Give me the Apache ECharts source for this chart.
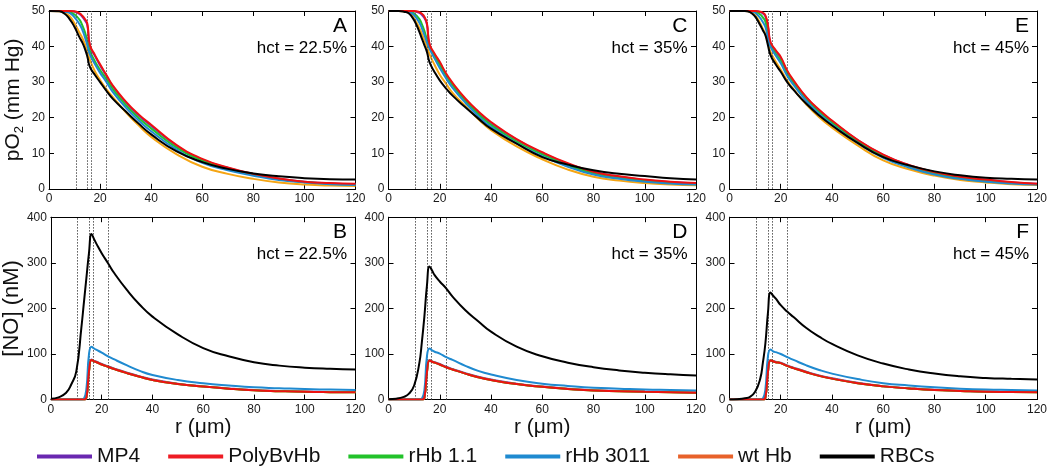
<!DOCTYPE html>
<html><head><meta charset="utf-8">
<script src="https://cdn.jsdelivr.net/npm/echarts@6/dist/echarts.min.js"></script>
<style>html,body{margin:0;padding:0;background:#fff}#chart{width:1050px;height:473px}</style>
</head><body><div id="chart"></div>
<script>
// ---------------- DATA ----------------
const seriesNames = ['MP4', 'PolyBvHb', 'rHb 1.1', 'rHb 3011', 'wt Hb', 'RBCs'];
const xTicks = [0, 20, 40, 60, 80, 100, 120];
const wallRadii = [10.5, 15, 16.5, 22.5];
const panelLetters = ['A', 'B', 'C', 'D', 'E', 'F'];
const hctLabels = ['hct = 22.5%', 'hct = 35%', 'hct = 45%'];

const radiusPO2 = [0, 4, 6, 8, 10, 12, 13, 14, 15, 16, 18, 20, 22.5, 25, 30, 35, 40, 50, 60, 70, 80, 90, 100, 110, 120];
const radiusNO  = [0, 3, 6, 8, 10, 12, 13, 14, 15, 16, 17, 18, 20, 22.5, 25, 30, 35, 40, 50, 60, 70, 80, 90, 100, 110, 120];

// pO2, hct 22.5% (A)
const pO2_A_MP4      = [50, 50, 50, 50, 49.8, 49.1, 48.4, 47.4, 46.0, 40.2, 37.3, 34.7, 31.7, 28.8, 24.3, 20.7, 17.7, 12.1, 8.2, 5.9, 4.1, 2.8, 2.0, 1.5, 1.3];
const pO2_A_PolyBvHb = [50, 50, 50, 50, 49.9, 49.3, 48.7, 47.8, 46.5, 40.5, 37.6, 35.0, 32.0, 29.0, 24.6, 21.0, 18.0, 12.3, 8.4, 6.0, 4.2, 2.9, 2.0, 1.6, 1.4];
const pO2_A_rHb11    = [50, 50, 49.9, 49.7, 49.0, 47.5, 46.0, 44.2, 41.5, 38.8, 35.8, 33.4, 30.8, 28.0, 23.6, 20.0, 17.0, 11.6, 7.9, 5.6, 4.0, 2.7, 1.9, 1.4, 1.2];
const pO2_A_rHb3011  = [50, 50, 49.8, 49.5, 48.2, 46.2, 44.8, 42.8, 40.4, 37.8, 35.0, 32.6, 30.0, 27.2, 22.9, 19.3, 16.2, 11.0, 7.3, 5.2, 3.7, 2.5, 1.8, 1.3, 1.1];
const pO2_A_wtHb     = [50, 49.9, 49.5, 48.6, 46.5, 43.8, 42.5, 40.8, 38.6, 36.3, 33.0, 30.6, 28.0, 25.8, 21.6, 17.9, 14.6, 9.7, 6.2, 4.2, 2.8, 1.8, 1.2, 0.9, 0.8];
const pO2_A_RBCs     = [50, 49.9, 49.3, 47.8, 45.5, 42.5, 41.2, 39.5, 37.2, 34.3, 32.0, 30.0, 27.5, 25.3, 21.8, 18.4, 15.3, 10.5, 7.5, 5.6, 4.3, 3.5, 3.0, 2.7, 2.6];

// pO2, hct 35% (C)
const pO2_C_MP4      = [50, 50, 50, 50, 49.9, 49.5, 48.9, 48.0, 46.2, 40.5, 37.7, 35.4, 32.1, 29.5, 25.1, 21.5, 18.5, 13.8, 10.1, 7.0, 4.7, 3.4, 2.5, 1.9, 1.5];
const pO2_C_PolyBvHb = [50, 50, 50, 50, 50, 49.7, 49.2, 48.4, 46.5, 40.8, 38.0, 35.7, 32.4, 29.8, 25.4, 21.8, 18.8, 14.0, 10.3, 7.2, 4.8, 3.5, 2.6, 2.0, 1.6];
const pO2_C_rHb11    = [50, 50, 50, 49.9, 49.3, 47.8, 46.3, 44.4, 42.0, 40.2, 37.3, 34.8, 31.8, 29.1, 24.8, 21.1, 18.0, 13.3, 9.7, 6.6, 4.3, 3.0, 2.2, 1.6, 1.3];
const pO2_C_rHb3011  = [50, 50, 50, 49.8, 48.8, 46.8, 45.2, 43.3, 41.2, 39.4, 36.6, 34.0, 31.0, 28.4, 24.2, 20.5, 17.4, 12.8, 9.2, 6.2, 4.0, 2.8, 2.0, 1.5, 1.2];
const pO2_C_wtHb     = [50, 50, 49.9, 49.5, 47.9, 45.2, 43.6, 41.8, 40.0, 37.9, 34.8, 32.1, 29.5, 27.0, 23.3, 19.6, 16.5, 11.9, 8.3, 5.4, 3.4, 2.3, 1.6, 1.2, 1.0];
const pO2_C_RBCs     = [50, 50, 49.8, 49.3, 47.4, 44.2, 42.3, 40.4, 38.5, 35.6, 32.8, 30.5, 28.2, 26.2, 22.9, 19.8, 16.9, 12.7, 8.9, 6.8, 5.2, 4.2, 3.6, 3.0, 2.6];

// pO2, hct 45% (E)
const pO2_E_MP4      = [50, 50, 50, 50, 50, 49.7, 49.3, 48.5, 45.6, 41.0, 38.7, 36.8, 33.0, 30.2, 25.6, 22.0, 19.0, 13.7, 9.5, 6.6, 4.6, 3.3, 2.5, 1.8, 1.4];
const pO2_E_PolyBvHb = [50, 50, 50, 50, 50, 49.8, 49.5, 48.8, 46.0, 41.3, 39.0, 37.1, 33.3, 30.5, 25.8, 22.2, 19.2, 13.8, 9.6, 6.7, 4.7, 3.4, 2.6, 1.9, 1.4];
const pO2_E_rHb11    = [50, 50, 50, 50, 49.8, 49.0, 48.2, 47.0, 43.5, 40.5, 38.0, 36.0, 32.5, 29.8, 25.2, 21.6, 18.6, 13.3, 9.1, 6.3, 4.3, 3.0, 2.1, 1.6, 1.3];
const pO2_E_rHb3011  = [50, 50, 50, 49.9, 49.5, 48.0, 46.9, 45.5, 42.5, 40.0, 37.5, 35.3, 31.8, 29.2, 24.7, 21.1, 18.1, 12.9, 8.7, 6.0, 4.0, 2.8, 2.0, 1.5, 1.2];
const pO2_E_wtHb     = [50, 50, 50, 49.8, 48.8, 46.5, 45.0, 43.5, 41.0, 38.5, 35.8, 33.5, 30.5, 28.0, 23.7, 20.1, 17.2, 12.2, 8.0, 5.5, 3.7, 2.5, 1.8, 1.3, 1.1];
const pO2_E_RBCs     = [50, 50, 50, 49.7, 48.4, 46.0, 44.6, 43.2, 40.4, 37.6, 35.0, 32.9, 30.0, 27.8, 23.9, 20.6, 17.8, 12.9, 8.9, 6.6, 4.9, 3.8, 3.1, 2.8, 2.6];

// [NO], hct 22.5% (B)
const NO_B_MP4      = [0, 0, 0, 0, 0, 0, 0, 5, 63, 88, 85, 83, 78, 73, 68, 59, 51, 44, 35, 29, 24.5, 21, 19, 17.5, 16.8, 16.5];
const NO_B_PolyBvHb = [0, 0, 0, 0, 0, 0, 0, 5, 62, 87, 84, 82, 77, 72, 67, 58, 50, 43, 34, 28.5, 24, 20.5, 18.5, 17, 16.3, 16];
const NO_B_rHb11    = [0, 0, 0, 0, 0, 0, 0, 5, 62, 87, 84, 82, 77, 72, 67, 58, 50, 43, 34, 28.5, 24, 20.5, 18.5, 17, 16.3, 16];
const NO_B_rHb3011  = [0, 0, 0, 0, 0, 0, 2, 25, 100, 116, 112, 109, 103, 95, 88, 75, 63, 54, 43, 36, 31, 27, 25, 23, 22, 21];
const NO_B_wtHb     = [0, 0, 0, 0, 0, 0, 0, 5, 62, 87, 84, 82, 77, 72, 67, 58, 50, 43, 34, 28.5, 24, 20.5, 18.5, 17, 16.3, 16];
const NO_B_RBCs     = [2, 5, 15, 33, 62, 158, 213, 268, 322, 363, 352, 341, 321, 299, 277, 240, 208, 182, 143, 113, 95, 82, 74.5, 70, 67.5, 66];

// [NO], hct 35% (D)
const NO_D_MP4      = [0, 0, 0, 0, 0, 0, 0, 4, 61, 87, 84, 82, 78, 72, 67, 58, 50, 44, 35, 28.5, 24, 20.5, 19, 17.5, 16.5, 15.5];
const NO_D_PolyBvHb = [0, 0, 0, 0, 0, 0, 0, 4, 60, 86, 83, 81, 77, 71, 66, 57, 49, 43, 34, 28, 23.5, 20, 18.5, 17, 16, 15];
const NO_D_rHb11    = [0, 0, 0, 0, 0, 0, 0, 4, 60, 86, 83, 81, 77, 71, 66, 57, 49, 43, 34, 28, 23.5, 20, 18.5, 17, 16, 15];
const NO_D_rHb3011  = [0, 0, 0, 0, 0, 0, 2, 20, 95, 112, 108, 105, 101, 93, 87, 74, 63, 55, 43, 35, 30, 26, 24, 22, 21, 20];
const NO_D_wtHb     = [0, 0, 0, 0, 0, 0, 0, 4, 60, 86, 83, 81, 77, 71, 66, 57, 49, 43, 34, 28, 23.5, 20, 18.5, 17, 16, 15];
const NO_D_RBCs     = [1, 2, 6, 13, 31, 79, 125, 182, 250, 292, 283, 273, 259, 244, 226, 196, 172, 149, 116, 95, 81, 71, 64, 59, 55.5, 53];

// [NO], hct 45% (F)
const NO_F_MP4      = [0, 0, 0, 0, 0, 0, 0, 4, 61, 87, 85, 83, 81, 75, 70, 61, 53, 47, 37, 29.5, 25, 21.5, 19.5, 17.5, 17, 16.5];
const NO_F_PolyBvHb = [0, 0, 0, 0, 0, 0, 0, 4, 60, 86, 84, 82, 80, 74, 69, 60, 52, 46, 36, 29, 24.5, 21, 19, 17, 16.5, 16];
const NO_F_rHb11    = [0, 0, 0, 0, 0, 0, 0, 4, 60, 86, 84, 82, 80, 74, 69, 60, 52, 46, 36, 29, 24.5, 21, 19, 17, 16.5, 16];
const NO_F_rHb3011  = [0, 0, 0, 0, 0, 0, 2, 22, 95, 110, 106, 104, 100, 93, 87, 75, 65, 57, 45, 36, 31, 27, 24, 22, 21, 20];
const NO_F_wtHb     = [0, 0, 0, 0, 0, 0, 0, 4, 60, 86, 84, 82, 80, 74, 69, 60, 52, 46, 36, 29, 24.5, 21, 19, 17, 16.5, 16];
const NO_F_RBCs     = [0, 1, 3, 6, 17, 46, 80, 123, 190, 235, 228, 222, 207, 193, 181, 157, 138, 122, 97, 79, 66, 57, 51, 47.5, 45.5, 44];

// ---------------- STYLE / LAYOUT ----------------
const FONT = '"Liberation Sans", Arial, sans-serif';
const lineColors = {'MP4': '#7b2fbf', 'PolyBvHb': '#ee1111', 'rHb 1.1': '#22c22a', 'rHb 3011': '#1f8ad0', 'wt Hb': '#f5a514', 'RBCs': '#000000'};
const legendColors = {'MP4': '#6a28b0', 'PolyBvHb': '#ee1c24', 'rHb 1.1': '#22c22a', 'rHb 3011': '#1f8ad0', 'wt Hb': '#e8622a', 'RBCs': '#000000'};
const drawOrder = ['MP4', 'wt Hb', 'rHb 1.1', 'rHb 3011', 'PolyBvHb', 'RBCs'];

const colLeft = [49, 388.5, 729.5];
const colWidth = [306.5, 307.5, 308];
const rowTop = [11, 217.2];
const rowHeight = [177.8, 182.4];

const panels = [
  {col: 0, row: 0, kind: 'pO2', r: radiusPO2, d: {'MP4': pO2_A_MP4, 'PolyBvHb': pO2_A_PolyBvHb, 'rHb 1.1': pO2_A_rHb11, 'rHb 3011': pO2_A_rHb3011, 'wt Hb': pO2_A_wtHb, 'RBCs': pO2_A_RBCs}},
  {col: 0, row: 1, kind: 'NO',  r: radiusNO,  d: {'MP4': NO_B_MP4, 'PolyBvHb': NO_B_PolyBvHb, 'rHb 1.1': NO_B_rHb11, 'rHb 3011': NO_B_rHb3011, 'wt Hb': NO_B_wtHb, 'RBCs': NO_B_RBCs}},
  {col: 1, row: 0, kind: 'pO2', r: radiusPO2, d: {'MP4': pO2_C_MP4, 'PolyBvHb': pO2_C_PolyBvHb, 'rHb 1.1': pO2_C_rHb11, 'rHb 3011': pO2_C_rHb3011, 'wt Hb': pO2_C_wtHb, 'RBCs': pO2_C_RBCs}},
  {col: 1, row: 1, kind: 'NO',  r: radiusNO,  d: {'MP4': NO_D_MP4, 'PolyBvHb': NO_D_PolyBvHb, 'rHb 1.1': NO_D_rHb11, 'rHb 3011': NO_D_rHb3011, 'wt Hb': NO_D_wtHb, 'RBCs': NO_D_RBCs}},
  {col: 2, row: 0, kind: 'pO2', r: radiusPO2, d: {'MP4': pO2_E_MP4, 'PolyBvHb': pO2_E_PolyBvHb, 'rHb 1.1': pO2_E_rHb11, 'rHb 3011': pO2_E_rHb3011, 'wt Hb': pO2_E_wtHb, 'RBCs': pO2_E_RBCs}},
  {col: 2, row: 1, kind: 'NO',  r: radiusNO,  d: {'MP4': NO_F_MP4, 'PolyBvHb': NO_F_PolyBvHb, 'rHb 1.1': NO_F_rHb11, 'rHb 3011': NO_F_rHb3011, 'wt Hb': NO_F_wtHb, 'RBCs': NO_F_RBCs}}
];

const grids = [], xAxes = [], yAxes = [], series = [], titles = [];
const tickStyle = {inside: true, length: 5, lineStyle: {color: '#000', width: 1}};
const axisLineStyle = {show: true, onZero: false, lineStyle: {color: '#000', width: 1}};
const labelStyle = {fontSize: 12, color: '#1a1a1a', fontFamily: FONT};

panels.forEach((p, i) => {
  const left = colLeft[p.col], width = colWidth[p.col];
  const top = rowTop[p.row], height = rowHeight[p.row];
  grids.push({left: left, top: top, width: width, height: height, containLabel: false});
  const isNO = p.kind === 'NO';
  const yMax = isNO ? 400 : 50, yInt = isNO ? 100 : 10;
  xAxes.push({
    gridIndex: i, type: 'value', min: xTicks[0], max: xTicks[xTicks.length - 1], interval: 20, position: 'bottom',
    axisLine: axisLineStyle, axisTick: tickStyle, splitLine: {show: false},
    axisLabel: Object.assign({margin: 4}, labelStyle),
    name: p.row === 1 ? 'r (\u03bcm)' : '', nameLocation: 'middle', nameGap: 13,
    nameTextStyle: {fontSize: 21, color: '#111', fontFamily: FONT}
  });
  xAxes.push({
    gridIndex: i, type: 'value', min: 0, max: 120, interval: 20, position: 'top',
    axisLine: axisLineStyle, axisTick: tickStyle, splitLine: {show: false}, axisLabel: {show: false}
  });
  let yName = '';
  if (p.col === 0) yName = isNO ? '[NO] (nM)' : 'pO{sub|2} (mm Hg)';
  yAxes.push({
    gridIndex: i, type: 'value', min: 0, max: yMax, interval: yInt, position: 'left',
    axisLine: axisLineStyle, axisTick: tickStyle, splitLine: {show: false},
    axisLabel: Object.assign({margin: 4}, labelStyle),
    name: yName, nameLocation: 'middle', nameGap: 23,
    nameTextStyle: {fontSize: isNO ? 22 : 21, color: '#111', fontFamily: FONT,
      rich: {sub: {fontSize: 13, verticalAlign: 'bottom', fontFamily: FONT, color: '#111', padding: [12, 0, 0, 0]}}}
  });
  yAxes.push({
    gridIndex: i, type: 'value', min: 0, max: yMax, interval: yInt, position: 'right',
    axisLine: axisLineStyle, axisTick: tickStyle, splitLine: {show: false}, axisLabel: {show: false}
  });
  drawOrder.forEach((name, k) => {
    const vals = p.d[name];
    const s = {
      type: 'line', name: name, xAxisIndex: 2 * i, yAxisIndex: 2 * i,
      data: p.r.map((rv, j) => [rv, vals[j]]),
      showSymbol: false, symbol: 'none', smooth: 0.5,
      lineStyle: {width: 2, color: lineColors[name]}, itemStyle: {color: lineColors[name]},
      silent: true, animation: false, z: 2 + k
    };
    if (k === 0) {
      s.markLine = {
        silent: true, symbol: 'none', animation: false, label: {show: false},
        lineStyle: {type: [1.5, 1.5], color: '#555', width: 1},
        data: wallRadii.map(w => ({xAxis: w}))
      };
    }
    series.push(s);
  });
  const textRight = 1050 - (left + width - 8.5);
  titles.push({text: panelLetters[i], right: textRight, top: top + 5, padding: 0,
    textStyle: {fontSize: 21, fontWeight: 'normal', color: '#000', fontFamily: FONT}});
  titles.push({text: hctLabels[p.col], right: textRight, top: top + 29, padding: 0,
    textStyle: {fontSize: 17, fontWeight: 'normal', color: '#000', fontFamily: FONT}});
});

const chart = echarts.init(document.getElementById('chart'), null, {renderer: 'canvas'});
chart.setOption({
  animation: false,
  backgroundColor: '#fff',
  title: titles,
  grid: grids,
  xAxis: xAxes,
  yAxis: yAxes,
  legend: {
    left: 32, top: 441, icon: 'rect', itemWidth: 55, itemHeight: 4, itemGap: 28,
    textStyle: {fontSize: 21, color: '#111', fontFamily: FONT},
    data: seriesNames.map(n => ({name: n, itemStyle: {color: legendColors[n]}}))
  },
  series: series
});
</script></body></html>
